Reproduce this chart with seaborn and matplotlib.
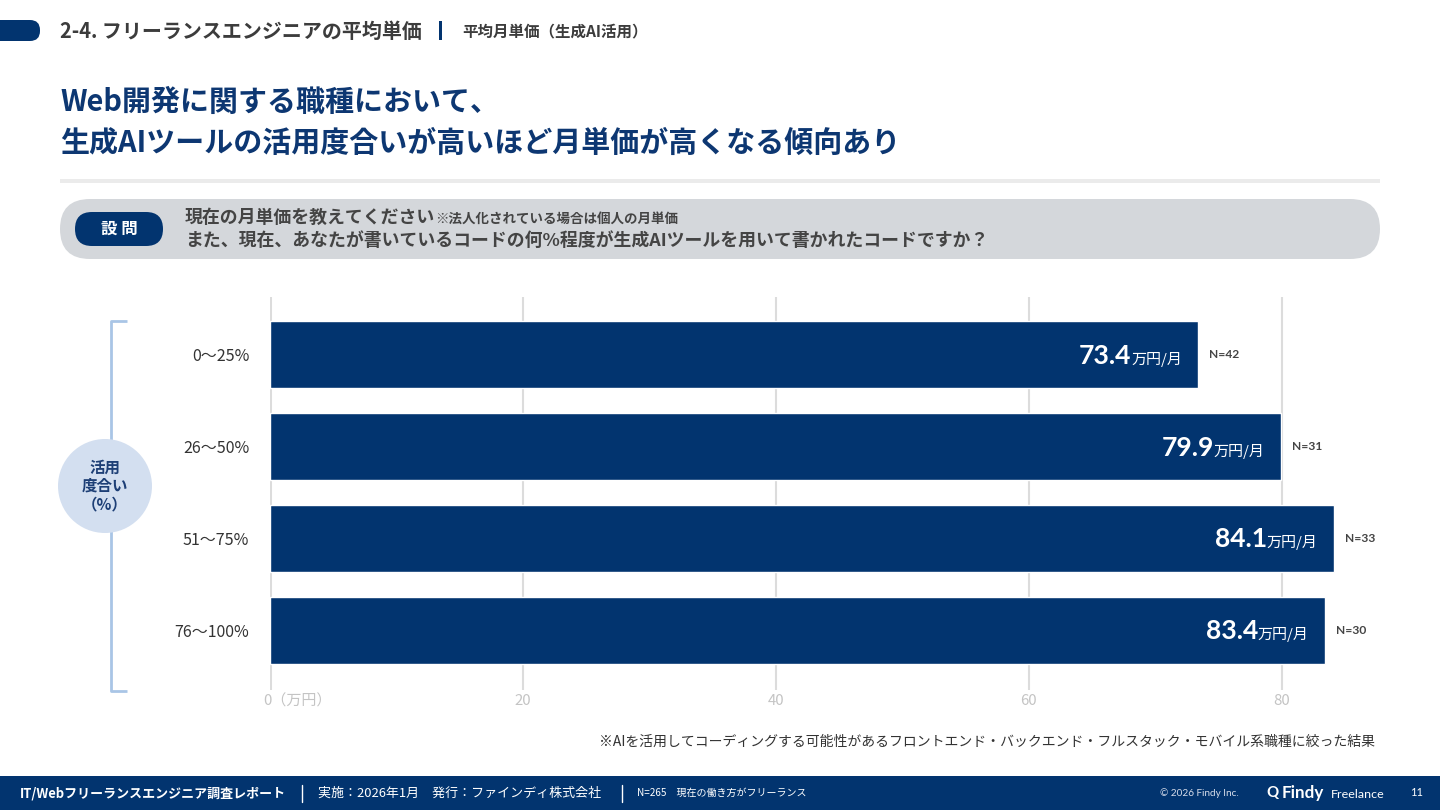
import matplotlib
matplotlib.use("Agg")
import matplotlib.pyplot as plt
import matplotlib.transforms as mtransforms
from matplotlib.patches import FancyBboxPatch, Circle, Rectangle
import pandas as pd
import seaborn as sns

# data
categories = ["0～25%", "26～50%", "51～75%", "76～100%"]
values = [73.4, 79.9, 84.1, 83.4]
n_counts = [42, 31, 33, 30]
x_ticks = [0, 20, 40, 60, 80]
x_tick_labels = ["0（万円）", "20", "40", "60", "80"]

NAVY = "#02346f"
TEXT = "#3c3c3c"

sns.set_theme(style="white")
plt.rcParams['font.family'] = ['Noto Sans CJK JP', 'DejaVu Sans']
plt.rcParams['axes.unicode_minus'] = False

df = pd.DataFrame({"range": categories, "value": values})

fig = plt.figure(figsize=(14.4, 8.1), dpi=100)
fig.patch.set_facecolor("white")

# background axes in pixel coordinates for the slide decorations
bg = fig.add_axes([0, 0, 1, 1], zorder=0)
bg.set_xlim(0, 1440)
bg.set_ylim(810, 0)
bg.axis("off")

def px(size_px):
    return size_px / 1.389

# header
bg.add_patch(FancyBboxPatch((-20, 20), 60, 21, boxstyle="round,pad=0,rounding_size=10",
                            fc=NAVY, ec="none"))
bg.text(60, 31, "2-4. フリーランスエンジニアの平均単価", fontsize=px(20), fontweight="bold",
        color=TEXT, va="center", ha="left")
bg.add_patch(Rectangle((439, 21), 3, 19, fc=NAVY, ec="none"))
bg.text(462, 31, "平均月単価（生成AI活用）", fontsize=px(15.5), fontweight="bold",
        color=TEXT, va="center", ha="left")

# main message
bg.text(60, 102, "Web開発に関する職種において、", fontsize=px(29), fontweight="bold",
        color="#0d3772", va="center", ha="left")
bg.text(60, 143, "生成AIツールの活用度合いが高いほど月単価が高くなる傾向あり", fontsize=px(29),
        fontweight="bold", color="#0d3772", va="center", ha="left")
bg.add_patch(Rectangle((60, 179), 1320, 4, fc="#ebebeb", ec="none"))

# question box
bg.add_patch(FancyBboxPatch((60, 199), 1320, 60, boxstyle="round,pad=0,rounding_size=30",
                            fc="#d4d7db", ec="none"))
bg.add_patch(FancyBboxPatch((75, 212), 88, 34, boxstyle="round,pad=0,rounding_size=17",
                            fc=NAVY, ec="none"))
bg.text(119, 229, "設 問", fontsize=px(16.5), fontweight="bold", color="white",
        va="center", ha="center")
q1 = bg.text(185, 218, "現在の月単価を教えてください", fontsize=px(17.9), fontweight="bold",
             color="#444444", va="center", ha="left")
bg.annotate("※法人化されている場合は個人の月単価", xy=(1, 0), xycoords=q1, xytext=(0, 1),
            textcoords="offset pixels", fontsize=px(13.5), fontweight="bold",
            color="#444444", va="bottom", ha="left")
bg.text(185, 241, "また、現在、あなたが書いているコードの何%程度が生成AIツールを用いて書かれたコードですか？",
        fontsize=px(17.9), fontweight="bold", color="#444444", va="center", ha="left")

# bracket + circle label
bg.plot([127, 111, 111, 127], [321, 321, 691, 691], color="#a9c5e6", lw=2, solid_capstyle="butt")
bg.add_patch(Circle((105, 486), 47, fc="#d3dff0", ec="none", zorder=3))
bg.text(105, 486, "活用\n度合い\n（%）", fontsize=px(15.5), fontweight="bold", color="#1d3f76",
        va="center", ha="center", linespacing=1.2, zorder=4)

# footnote
bg.text(1375, 742, "※AIを活用してコーディングする可能性があるフロントエンド・バックエンド・フルスタック・モバイル系職種に絞った結果",
        fontsize=px(13.9), color="#333333", va="center", ha="right")

# footer
bg.add_patch(Rectangle((0, 776), 1440, 34, fc=NAVY, ec="none"))
bg.text(20, 793, "IT/Webフリーランスエンジニア調査レポート", fontsize=px(13), fontweight="bold",
        color="white", va="center", ha="left")
bg.plot([302, 302], [785, 802], color="white", lw=1)
bg.text(318, 793, "実施：2026年1月　発行：ファインディ株式会社", fontsize=px(13),
        color="white", va="center", ha="left")
bg.plot([622, 622], [785, 802], color="white", lw=1)
bg.text(637, 793, "N=265　現在の働き方がフリーランス", fontsize=px(10),
        color="white", va="center", ha="left")
bg.text(1160, 793, "© 2026 Findy Inc.", fontsize=px(10), color="#d6dcea",
        va="center", ha="left", family=["Lato", "DejaVu Sans"])
bg.text(1266, 793, "Q", fontsize=px(15), fontweight="bold", color="white",
        va="center", ha="left", family=["Lato", "DejaVu Sans"])
bg.text(1282, 793, "Findy", fontsize=px(17), fontweight="bold", color="white",
        va="center", ha="left", family=["Lato", "DejaVu Sans"])
bg.text(1331, 794, "Freelance", fontsize=px(12.5), color="white",
        va="center", ha="left", family=["Lato", "DejaVu Sans"])
bg.text(1410, 793, "11", fontsize=px(11), color="white", va="center", ha="left",
        family=["Lato", "DejaVu Sans"])

# main chart: 0 -> 270px, 80 -> 1282px
ax = fig.add_axes([270 / 1440, 1 - 690 / 810, (1383 - 270) / 1440, (690 - 297) / 810], zorder=1)
ax.patch.set_alpha(0)
sns.barplot(data=df, x="value", y="range", orient="h", color=NAVY, width=0.73,
            saturation=1, ax=ax, zorder=3)
ax.set_xlim(0, 88)
ax.set_ylim(3.65, -0.63)
ax.set_xticks(x_ticks)
ax.set_xticklabels(x_tick_labels)
ax.set_xlabel("")
ax.set_ylabel("")
for t in x_ticks:
    ax.axvline(t, color="#dcdcdc", lw=2.2 if t == 0 else 1.5, zorder=1)
for s in ax.spines.values():
    s.set_visible(False)
ax.tick_params(axis="x", length=0, pad=3, labelsize=px(15), labelcolor="#c4c4c4")
ax.tick_params(axis="y", length=0, pad=15, labelsize=px(16), labelcolor="#333333")
first = ax.get_xticklabels()[0]
first.set_horizontalalignment("left")
first.set_transform(first.get_transform() +
                    mtransforms.ScaledTranslation(-7 / 100, 0, fig.dpi_scale_trans))

fig.canvas.draw()
renderer = fig.canvas.get_renderer()
for i, (v, n) in enumerate(zip(values, n_counts)):
    unit = ax.annotate("万円/月", xy=(v, i), xytext=(-16, -9), textcoords="offset pixels",
                       fontsize=px(15), color="white", ha="right", va="baseline", zorder=5)
    w = unit.get_window_extent(renderer).width
    ax.annotate(f"{v:.1f}", xy=(v, i), xytext=(-16 - w, -9), textcoords="offset pixels",
                fontsize=px(26.5), fontweight="bold", color="white", ha="right", va="baseline",
                family=["Lato", "Noto Sans CJK JP"], zorder=5)
    ax.annotate(f"N={n}", xy=(v, i), xytext=(11, 0), textcoords="offset pixels",
                fontsize=px(12), fontweight="bold", color="#444444", ha="left", va="center",
                family=["Lato", "Noto Sans CJK JP"], zorder=5)

fig.savefig("out.png", dpi=100, facecolor="white")
